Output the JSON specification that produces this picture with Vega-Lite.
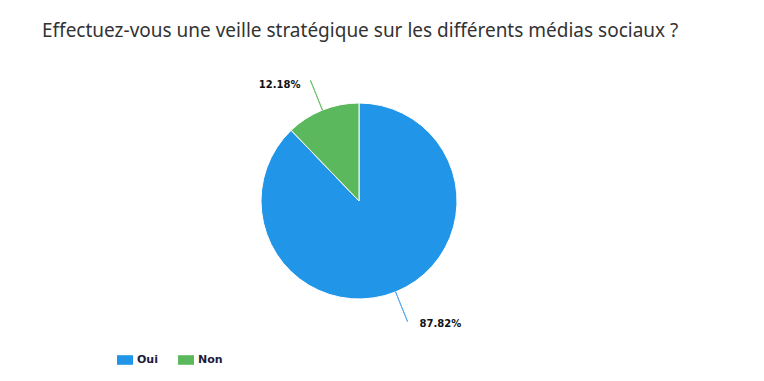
{
  "$schema": "https://vega.github.io/schema/vega-lite/v6.json",
  "width": 718,
  "height": 360,
  "autosize": {"type": "none"},
  "padding": {"top": 21, "left": 0, "right": 46, "bottom": 0},
  "background": "white",
  "title": {
    "text": "Effectuez-vous une veille stratégique sur les différents médias sociaux ?",
    "anchor": "start",
    "frame": "group",
    "orient": "top",
    "baseline": "alphabetic",
    "offset": -35,
    "dx": 42,
    "font": "Noto Sans",
    "fontSize": 19,
    "fontWeight": "normal",
    "color": "#333333"
  },
  "data": {
    "values": [
      {"cat": "Oui", "value": 87.82, "label": "87.82%"},
      {"cat": "Non", "value": 12.18, "label": "12.18%"}
    ]
  },
  "resolve": {"scale": {"theta": "independent"}},
  "layer": [
    {
      "mark": {"type": "arc", "outerRadius": 98, "stroke": "white", "strokeWidth": 1},
      "encoding": {
        "theta": {"field": "value", "type": "quantitative", "stack": true},
        "order": {"field": "value", "sort": "descending"},
        "color": {
          "field": "cat",
          "type": "nominal",
          "sort": ["Oui", "Non"],
          "scale": {"domain": ["Oui", "Non"], "range": ["#2196e9", "#5cb85c"]},
          "legend": {
            "orient": "none",
            "legendX": 117,
            "legendY": 331,
            "direction": "horizontal",
            "title": null,
            "padding": 0,
            "symbolType": "M-1,-0.6H1V0.6H-1Z",
            "symbolSize": 256,
            "symbolStrokeWidth": 0,
            "labelFont": "DejaVu Sans",
            "labelFontWeight": "bold",
            "labelFontSize": 11,
            "labelColor": "#1c1c3a",
            "labelOffset": 4,
            "columnPadding": 20
          }
        }
      }
    },
    {
      "mark": {"type": "arc", "innerRadius": 98, "outerRadius": 130, "padAngle": 3, "fillOpacity": 0, "strokeWidth": 1},
      "encoding": {
        "theta": {"field": "value", "type": "quantitative", "stack": true},
        "order": {"field": "value", "sort": "descending"},
        "stroke": {
          "field": "cat",
          "type": "nominal",
          "scale": {"domain": ["Oui", "Non"], "range": ["#5aaaf0", "#6cc46c"]},
          "legend": null
        },
        "strokeOpacity": {"condition": {"test": "datum.cat === 'Non'", "value": 1}, "value": 0}
      }
    },
    {
      "mark": {"type": "arc", "innerRadius": 98, "outerRadius": 130, "padAngle": 3, "fillOpacity": 0, "strokeWidth": 1},
      "encoding": {
        "theta": {"field": "value", "type": "quantitative", "stack": true, "scale": {"range": [1.3794, 4.5210]}},
        "order": {"field": "value", "sort": "descending"},
        "stroke": {
          "field": "cat",
          "type": "nominal",
          "scale": {"domain": ["Oui", "Non"], "range": ["#5aaaf0", "#6cc46c"]},
          "legend": null
        },
        "strokeOpacity": {"condition": {"test": "datum.cat === 'Oui'", "value": 1}, "value": 0}
      }
    },
    {
      "mark": {"type": "text", "radius": 130, "align": "left", "baseline": "middle", "dx": 12, "dy": 2, "font": "DejaVu Sans", "fontWeight": "bold", "fontSize": 10, "color": "#111111"},
      "encoding": {
        "theta": {"field": "value", "type": "quantitative", "stack": true},
        "order": {"field": "value", "sort": "descending"},
        "text": {"condition": {"test": "datum.cat === 'Oui'", "field": "label"}, "value": ""}
      }
    },
    {
      "mark": {"type": "text", "radius": 130, "align": "right", "baseline": "middle", "dx": -10, "dy": 5, "font": "DejaVu Sans", "fontWeight": "bold", "fontSize": 10, "color": "#111111"},
      "encoding": {
        "theta": {"field": "value", "type": "quantitative", "stack": true},
        "order": {"field": "value", "sort": "descending"},
        "text": {"condition": {"test": "datum.cat === 'Non'", "field": "label"}, "value": ""}
      }
    }
  ]
}
